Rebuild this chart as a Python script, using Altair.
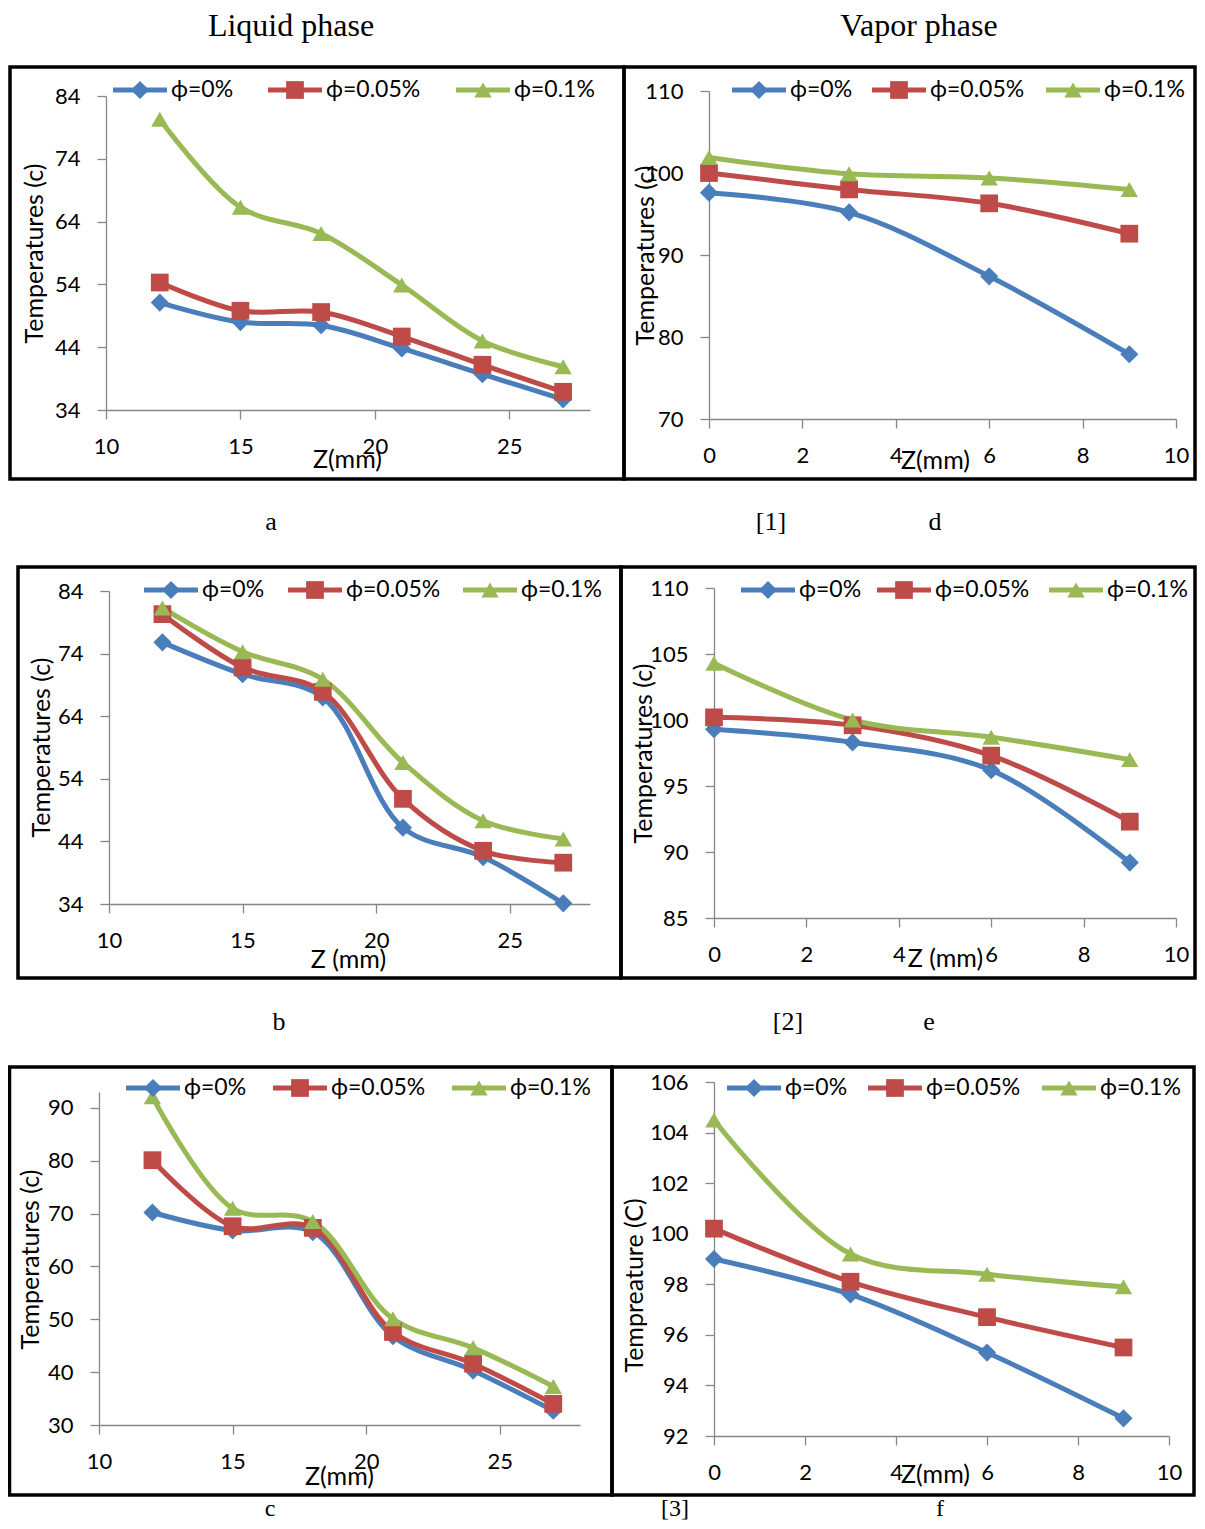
import altair as alt
import pandas as pd

SERIES = ["ϕ=0%", "ϕ=0.05%", "ϕ=0.1%"]
COLORS = ["#4A7EBB", "#BE4B48", "#98B954"]
SHAPES = ["diamond", "square", "triangle-up"]
MARKER_SIZES = [330, 300, 430]

Z_LIQ = [12, 15, 18, 21, 24, 27]
Z_VAP = [0, 3, 6, 9]

# liquid phase (a, b, c)
A_0 = [51.1, 48.0, 47.5, 43.8, 39.7, 35.7]
A_005 = [54.3, 49.8, 49.6, 45.7, 41.2, 36.9]
A_01 = [80.3, 66.3, 62.1, 53.9, 45.0, 40.9]

B_0 = [75.8, 70.7, 67.0, 46.2, 41.5, 34.1]
B_005 = [80.3, 71.8, 67.9, 50.8, 42.5, 40.6]
B_01 = [81.3, 74.3, 69.9, 56.6, 47.3, 44.4]

C_0 = [70.2, 66.8, 66.5, 46.8, 40.3, 32.7]
C_005 = [80.1, 67.6, 67.3, 47.6, 41.6, 34.0]
C_01 = [92.1, 71.0, 68.5, 50.1, 44.6, 37.3]

# vapor phase (d, e, f)
D_0 = [97.6, 95.2, 87.4, 77.9]
D_005 = [100.0, 98.0, 96.3, 92.6]
D_01 = [101.9, 99.9, 99.4, 98.0]

E_0 = [99.3, 98.3, 96.2, 89.2]
E_005 = [100.2, 99.6, 97.3, 92.3]
E_01 = [104.3, 100.0, 98.7, 97.0]

F_0 = [99.0, 97.6, 95.3, 92.7]
F_005 = [100.2, 98.1, 96.7, 95.5]
F_01 = [104.5, 99.2, 98.4, 97.9]

LIQ_TICKS = [10, 15, 20, 25]
VAP_TICKS = [0, 2, 4, 6, 8, 10]

PHASES = ["Liquid phase", "Vapor phase"]
CAPTIONS = ["a", "[1]", "d", "b", "[2]", "e", "c", "[3]", "f"]

SANS = "Lato"
SERIF = "Liberation Serif"
GRAY = "#868686"
W, H = 1189, 1513     # whole canvas; page coords minus the 8px body margin
M = 8

one = pd.DataFrame({"k": [0]})

color_enc = alt.Color("phi:N", scale=alt.Scale(domain=SERIES, range=COLORS), legend=None)
shape_enc = alt.Shape("phi:N", scale=alt.Scale(domain=SERIES, range=SHAPES), legend=None)
size_enc = alt.Size("phi:N", scale=alt.Scale(domain=SERIES, range=MARKER_SIZES), legend=None)

AXIS = dict(grid=False, domainColor=GRAY, domainWidth=1.3, tickColor=GRAY, tickWidth=1.3,
            tickSize=9, labelFont=SANS, labelFontSize=22, labelColor="black",
            labelPadding=17, labelFlush=False, labelOverlap=False, format="d",
            titleFont=SANS, titleFontSize=25, titleFontWeight="normal", titleColor="black",
            titleBaseline="middle", titleAlign="center")


def panel(z, temps, xr, yr, xdom, xticks, ydom, yticks, ytitle, ytpos, xtitle, xtpos):
    # xr = (left, right), yr = (bottom, top) of the plot area in page pixels
    df = pd.DataFrame({
        "z": z * len(temps),
        "temp": [v for t in temps for v in t],
        "phi": [s for s in SERIES for _ in z],
    })
    x = alt.X("z:Q",
              scale=alt.Scale(domain=xdom, range=[xr[0] - M, xr[1] - M], nice=False, zero=False),
              axis=alt.Axis(orient="bottom", offset=(yr[0] - M) - H, values=xticks,
                            title=xtitle, titleX=xtpos[0] - M, titleY=xtpos[1] - yr[0], **AXIS))
    y = alt.Y("temp:Q",
              scale=alt.Scale(domain=ydom, range=[yr[0] - M, yr[1] - M], nice=False, zero=False),
              axis=alt.Axis(orient="left", offset=-(xr[0] - M), values=yticks,
                            title=ytitle, titleX=ytpos[0] - xr[0], titleY=ytpos[1] - M,
                            titleAngle=270, **AXIS))
    lines = alt.Chart(df).mark_line(
        interpolate="catmull-rom", strokeWidth=5, strokeCap="round", strokeJoin="round"
    ).encode(x=x, y=y, color=color_enc)
    points = alt.Chart(df).mark_point(filled=True, opacity=1).encode(
        x=x, y=y, color=color_enc, shape=shape_enc, size=size_enc)
    return alt.layer(lines, points)


def legend(ly, centers):
    out = []
    for s, cx in zip(SERIES, centers):
        item = pd.DataFrame({"phi": [s]})
        out.append(alt.Chart(item).mark_point(
            shape="stroke", size=54 ** 2, strokeWidth=5, opacity=1).encode(
            x=alt.value(cx - M), y=alt.value(ly - M), color=color_enc))
        out.append(alt.Chart(item).mark_point(filled=True, opacity=1).encode(
            x=alt.value(cx - M), y=alt.value(ly - M), color=color_enc,
            shape=shape_enc, size=size_enc))
        out.append(alt.Chart(item).mark_text(
            align="left", baseline="middle", font=SANS, fontSize=23, color="black").encode(
            x=alt.value(cx - M + 31), y=alt.value(ly - M), text="phi:N"))
    return out


def frame(x1, y1, x2, y2):
    return alt.Chart(one).mark_rect(fillOpacity=0, stroke="black", strokeWidth=3.5).encode(
        x=alt.value(x1 - M), x2=alt.value(x2 - M), y=alt.value(y1 - M), y2=alt.value(y2 - M))


def label(txt, x, y, size):
    return alt.Chart(one).mark_text(
        align="center", baseline="middle", font=SERIF, fontSize=size, color="black").encode(
        x=alt.value(x - M), y=alt.value(y - M), text=alt.value(txt))


YT = "Temperatures (c)"

panels = [
    panel(Z_LIQ, [A_0, A_005, A_01], (106, 590), (410, 96), [10, 28], LIQ_TICKS,
          [34, 84], [34, 44, 54, 64, 74, 84], YT, (34, 253), "Z(mm)", (347, 459)),
    panel(Z_VAP, [D_0, D_005, D_01], (709, 1176), (419, 91), [0, 10], VAP_TICKS,
          [70, 110], [70, 80, 90, 100, 110], YT, (645, 255), "Z(mm)", (935, 460)),
    panel(Z_LIQ, [B_0, B_005, B_01], (109, 590), (904, 591), [10, 28], LIQ_TICKS,
          [34, 84], [34, 44, 54, 64, 74, 84], YT, (41, 747), "Z (mm)", (348, 959)),
    panel(Z_VAP, [E_0, E_005, E_01], (714, 1176), (918, 588), [0, 10], VAP_TICKS,
          [85, 110], [85, 90, 95, 100, 105, 110], YT, (643, 753), "Z (mm)", (945, 958)),
    panel(Z_LIQ, [C_0, C_005, C_01], (99, 580), (1425, 1092), [10, 28], LIQ_TICKS,
          [30, 93], [30, 40, 50, 60, 70, 80, 90], YT, (30, 1259), "Z(mm)", (339, 1476)),
    panel(Z_VAP, [F_0, F_005, F_01], (714, 1169), (1436, 1082), [0, 10], VAP_TICKS,
          [92, 106], [92, 94, 96, 98, 100, 102, 104, 106], "Tempreature (C)", (634, 1285),
          "Z(mm)", (935, 1474)),
]

frames = [
    frame(10, 67, 624, 479), frame(624, 67, 1195, 479),
    frame(18, 567, 621, 978), frame(621, 567, 1195, 978),
    frame(9.5, 1067, 612, 1495), frame(612, 1067, 1194, 1495),
]

legends = (legend(90, [140, 295, 483]) + legend(90, [759, 899, 1073])
           + legend(590, [171, 315, 490]) + legend(590, [768, 904, 1076])
           + legend(1088, [153, 300, 479]) + legend(1088, [754, 895, 1069]))

caption_pos = [(271, 522, 26), (771, 522, 26), (935, 522, 26),
               (279, 1022, 26), (788, 1022, 26), (929, 1022, 26),
               (270, 1509, 24), (675, 1509, 24), (940, 1509, 24)]
texts = [label(PHASES[0], 291, 26, 32), label(PHASES[1], 919, 26, 32)]
texts += [label(t, x, y, s) for t, (x, y, s) in zip(CAPTIONS, caption_pos)]

chart = alt.layer(*frames, *panels, *legends, *texts).resolve_scale(
    x="independent", y="independent"
).properties(
    width=W, height=H, padding=0, autosize=alt.AutoSizeParams(type="none")
).configure_view(strokeWidth=0)

chart.save("out.html", embed_options={"renderer": "svg", "actions": False})
